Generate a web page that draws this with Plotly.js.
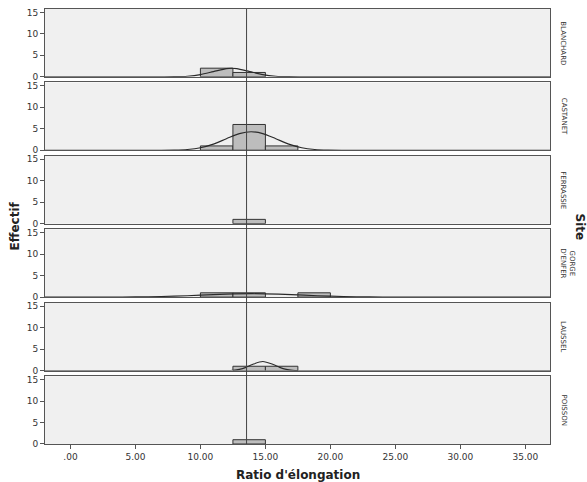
<!DOCTYPE html>
<html>
<head>
<meta charset="utf-8">
<script src="https://cdn.plot.ly/plotly-3.0.1.min.js"></script>
<style>html,body{margin:0;padding:0;background:#fff;}#chart{width:587px;height:482px;}</style>
</head>
<body>
<div id="chart"></div>
<script>
// ---- data ----
const sites = ["BLANCHARD", "CASTANET", "FERRASSIE", "GORGE<br>D'ENFER", "LAUSSEL", "POISSON"];
const binCenters = [11.25, 13.75, 16.25, 18.75];
const binWidth = 2.5;
const countsBlanchard = [2, 1, 0, 0];
const countsCastanet  = [1, 6, 1, 0];
const countsFerrassie = [0, 1, 0, 0];
const countsGorge     = [1, 1, 0, 1];
const countsLaussel   = [0, 1, 1, 0];
const countsPoisson   = [0, 1, 0, 0];

// normal-curve overlays
const curveBlanchardX = [-2, 6, 7, 8, 9, 10, 11, 12, 12.4, 12.8, 13.8, 14.8, 15.8, 16.8, 17.8, 19, 37];
const curveBlanchardY = [0, 0, 0.002, 0.02, 0.13, 0.5, 1.2, 1.9, 2.0, 1.9, 1.2, 0.5, 0.13, 0.02, 0.002, 0, 0];
const curveCastanetX = [-2, 6, 8, 9, 10, 11, 12, 13, 13.9, 14.8, 15.8, 16.8, 17.8, 18.8, 19.8, 22, 37];
const curveCastanetY = [0, 0, 0.04, 0.18, 0.58, 1.42, 2.67, 3.87, 4.3, 3.87, 2.67, 1.42, 0.58, 0.18, 0.04, 0, 0];
const curveGorgeX = [-2, 0, 2, 4, 6, 8, 10, 12, 14, 16, 18, 20, 22, 24, 26, 28, 30, 37];
const curveGorgeY = [0, 0.001, 0.004, 0.021, 0.077, 0.22, 0.45, 0.69, 0.8, 0.69, 0.45, 0.22, 0.077, 0.021, 0.004, 0.001, 0, 0];
const curveLausselX = [-2, 11, 12, 12.5, 13, 13.5, 14, 14.8, 15.6, 16.1, 16.6, 17.1, 17.6, 18.6, 37];
const curveLausselY = [0, 0, 0.02, 0.08, 0.28, 0.74, 1.41, 2.1, 1.41, 0.74, 0.28, 0.08, 0.02, 0, 0];

const meanLine = 13.55;
const xTickVals = [0, 5, 10, 15, 20, 25, 30, 35];
const xTickText = [".00", "5.00", "10.00", "15.00", "20.00", "25.00", "30.00", "35.00"];
const yTickVals = [0, 5, 10, 15];
const yTickText = ["0", "5", "10", "15"];

const allCounts = [countsBlanchard, countsCastanet, countsFerrassie, countsGorge, countsLaussel, countsPoisson];
const allCurves = [
  [curveBlanchardX, curveBlanchardY],
  [curveCastanetX, curveCastanetY],
  null,
  [curveGorgeX, curveGorgeY],
  [curveLausselX, curveLausselY],
  null
];

// ---- layout ----
const nP = sites.length;
const gap = 0.0131;
const h = (1 - gap * (nP - 1)) / nP;
const font = "DejaVu Sans, Arial, sans-serif";
const traces = [];
const layout = {
  width: 587, height: 482,
  margin: {l: 45, r: 37, t: 9, b: 38},
  paper_bgcolor: "#ffffff",
  plot_bgcolor: "rgba(0,0,0,0)",
  showlegend: false,
  hovermode: false,
  font: {family: font, color: "#333", size: 9},
  shapes: [],
  annotations: []
};

for (let i = 0; i < nP; i++) {
  const k = i + 1;
  const xa = k === 1 ? "x" : "x" + k;
  const ya = k === 1 ? "y" : "y" + k;
  const top = 1 - i * (h + gap);
  const bottom = top - h;
  const isLast = i === nP - 1;
  layout["xaxis" + (k === 1 ? "" : k)] = {
    domain: [0, 1], anchor: ya, range: [-1.96, 36.9],
    matches: k === 1 ? undefined : "x",
    showgrid: false, zeroline: false,
    showline: true, mirror: true, linecolor: "#555", linewidth: 1,
    ticks: isLast ? "outside" : "", ticklen: 4, tickcolor: "#555",
    tickvals: xTickVals, ticktext: xTickText,
    showticklabels: isLast,
    tickfont: {size: 9, color: "#333", family: font}
  };
  layout["yaxis" + (k === 1 ? "" : k)] = {
    domain: [bottom, top], anchor: xa, range: [0, 15.8],
    showgrid: false, zeroline: false,
    showline: true, mirror: true, linecolor: "#555", linewidth: 1,
    ticks: "outside", ticklen: 4, tickcolor: "#555",
    tickvals: yTickVals, ticktext: yTickText,
    tickfont: {size: 9, color: "#333", family: font}
  };
  layout.shapes.push({
    type: "rect", xref: "paper", yref: ya + " domain",
    x0: 0, x1: 1, y0: 0, y1: 1,
    fillcolor: "#f0f0f0", line: {width: 0}, layer: "below"
  });
  // bars
  const cx = [], cy = [];
  allCounts[i].forEach((c, j) => { if (c > 0) { cx.push(binCenters[j]); cy.push(c); } });
  traces.push({
    type: "bar", x: cx, y: cy, width: binWidth, xaxis: xa, yaxis: ya,
    marker: {color: "#bdbdbd", line: {color: "#333", width: 1}}
  });
  // curve
  if (allCurves[i]) {
    traces.push({
      type: "scatter", mode: "lines", x: allCurves[i][0], y: allCurves[i][1],
      xaxis: xa, yaxis: ya, line: {color: "#2a2a2a", width: 1.1, shape: "spline", smoothing: 0.8}
    });
  }
  // strip label
  layout.annotations.push({
    text: sites[i], xref: "paper", yref: "paper",
    x: 1.015, xanchor: "left", y: (top + bottom) / 2, yanchor: "middle",
    textangle: 90, showarrow: false,
    font: {size: 7, color: "#333", family: font}
  });
}
// mean reference line across all panels
layout.shapes.push({
  type: "line", xref: "x", yref: "paper", x0: meanLine, x1: meanLine, y0: 0, y1: 1,
  line: {color: "#444", width: 1}, layer: "above"
});
// titles
layout.annotations.push({
  text: "<b>Ratio d'élongation</b>", xref: "paper", yref: "paper",
  x: 0.5, xanchor: "center", y: 0, yanchor: "top", yshift: -22,
  showarrow: false, font: {size: 12, color: "#222", family: font}
});
layout.annotations.push({
  text: "<b>Effectif</b>", xref: "paper", yref: "paper",
  x: 0, xanchor: "center", xshift: -31, y: 0.5, yanchor: "middle",
  textangle: -90, showarrow: false, font: {size: 12, color: "#222", family: font}
});
layout.annotations.push({
  text: "<b>Site</b>", xref: "paper", yref: "paper",
  x: 1, xanchor: "center", xshift: 30, y: 0.5, yanchor: "middle",
  textangle: 90, showarrow: false, font: {size: 12, color: "#222", family: font}
});

Plotly.newPlot("chart", traces, layout, {displayModeBar: false, staticPlot: true});
</script>
</body>
</html>
